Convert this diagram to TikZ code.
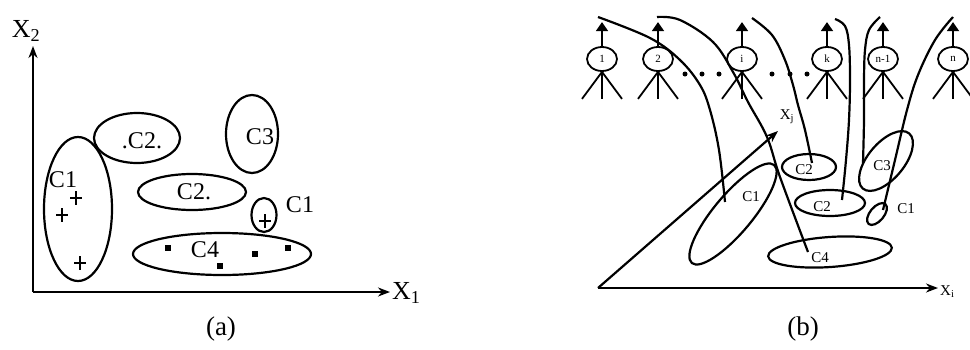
\documentclass[tikz,border=0pt]{standalone}
\usepackage{fontspec}
\setmainfont{Liberation Serif}
\usetikzlibrary{arrows.meta,shapes.geometric}
\begin{document}
\begin{tikzpicture}[x=1pt,y=-1pt,
  ln/.style={line width=2.2pt},
  thinln/.style={line width=1.8pt},
  ax/.style={line width=2.2pt,-{Stealth[length=12pt,width=9pt]}},
  upar/.style={line width=1.8pt,-{Triangle[length=9pt,width=12pt]}},
  big/.style={font=\fontsize{24}{26}\selectfont,inner sep=0pt},
  axl/.style={font=\fontsize{26}{28}\selectfont,inner sep=0pt},
  captxt/.style={font=\fontsize{27}{29}\selectfont,inner sep=0pt},
  sml/.style={font=\fontsize{15}{17}\selectfont,inner sep=0pt},
  neuron/.style={draw,ellipse,line width=1.8pt,minimum width=30pt,minimum height=24pt,inner sep=0pt,font=\fontsize{11}{12}\selectfont},
  dotm/.style={fill=black,circle,inner sep=0pt,minimum size=5pt},
]
\useasboundingbox (0,0) rectangle (970,349);

% ---------------- panel (a) ----------------
\coordinate (Oa) at (33,292);
\coordinate (Ya) at (33,46);
\coordinate (Xa) at (390,292);
\draw[ax] (Oa) -- (Ya);
\draw[ax] (Oa) -- (Xa);
\node[axl] (lx2a) at (26,31) {X\textsubscript{2}};
\node[axl,anchor=west] (lx1a) at (392,293) {X\textsubscript{1}};

\draw[ln] (78,209) ellipse (34 and 72);
\draw[ln] (137,138) ellipse (43 and 25);
\draw[ln] (252,134) ellipse (26 and 39);
\draw[ln] (192,192) ellipse (54 and 18);
\draw[ln] (264,215) ellipse (12.5 and 17);
\draw[ln] (222,254) ellipse (89 and 21);

\node[big] (c1a) at (63,180) {C1};
\node[big] (c2a) at (142,141) {.C2.};
\node[big] (c3a) at (260,137) {C3};
\node[big] (c2b) at (194,192) {C2.};
\node[big] (c1b) at (300,205) {C1};
\node[big] (c4a) at (205,250) {C4};

\foreach \p/\q in {76/198,62/215,80/263,265/221}
  \draw[thinln] (\p-6,\q) -- (\p+6,\q) (\p,\q-7) -- (\p,\q+7);
\foreach \p/\q in {168/248,220/266,255/254,288/248}
  \fill (\p-2.6,\q-2.6) rectangle (\p+2.6,\q+2.6);

\node[captxt] (cpa) at (221,329) {(a)};

% ---------------- panel (b) ----------------
\foreach \n/\x/\t in {n1/602/1,n2/658/2,ni/742/i,nk/827/k,nm/883/n-1,nn/953/n}{
  \node[neuron] (\n) at (\x,59) {\t};
  \draw[upar] (\n.north) -- ++(0,-24);
  \draw[thinln] (\n.south) -- ++(-20,27);
  \draw[thinln] (\n.south) -- ++(0,27);
  \draw[thinln] (\n.south) -- ++(20,27);
}
\foreach \x in {685,702,719,772,790,807}
  \node[dotm] at (\x,74) {};

\coordinate (Ob) at (598,288);
\coordinate (Xib) at (938,288);
\coordinate (Xjb) at (778,131);
\draw[ax] (Ob) -- (Xib);
\draw[ax] (Ob) -- (Xjb);
\node[sml,anchor=west] (lxib) at (940,292) {X\textsubscript{i}};
\node[sml] (lxjb) at (787,117) {X\textsubscript{j}};

\draw[ln,rotate around={50:(733,214)}] (733,214) ellipse (64 and 19);
\draw[ln] (809,167) ellipse (27 and 13);
\draw[ln] (830,203) ellipse (35 and 13);
\draw[ln,rotate around={50:(886,161)}] (886,161) ellipse (36 and 18);
\draw[ln,rotate around={50:(877,214)}] (877,214) ellipse (13 and 7);
\draw[ln,rotate around={4:(830,252)}] (830,252) ellipse (62 and 15);

\node[sml] (c1c) at (751,197) {C1};
\node[sml] (c2c) at (804,170) {C2};
\node[sml] (c2d) at (822,207) {C2};
\node[sml] (c3c) at (882,166) {C3};
\node[sml] (c1d) at (906,209) {C1};
\node[sml] (c4c) at (820,258) {C4};

% decision boundaries
\draw[ln] plot[smooth,tension=0.6] coordinates {(598,17) (650,38) (680,60) (700,85) (710,110) (719,150) (725,202)};
\draw[ln] plot[smooth,tension=0.6] coordinates {(657,17) (680,20) (713,42) (733,72) (748,102) (767,137) (780,177) (808,252)};
\draw[ln] plot[smooth,tension=0.6] coordinates {(752,18) (772,35) (785,60) (793,85) (798,105) (805,130) (812,163)};
\draw[ln] plot[smooth,tension=0.6] coordinates {(835,19) (845,26) (849,45) (850,80) (849,120) (846,160) (842,200)};
\draw[ln] plot[smooth,tension=0.6] coordinates {(880,17) (869,30) (865,50) (864,80) (864,120) (863,163)};
\draw[ln] plot[smooth,tension=0.6] coordinates {(953,17) (935,40) (918,75) (907,110) (895,160) (883,210)};

\node[captxt] (cpb) at (803,329) {(b)};
\end{tikzpicture}
\end{document}
